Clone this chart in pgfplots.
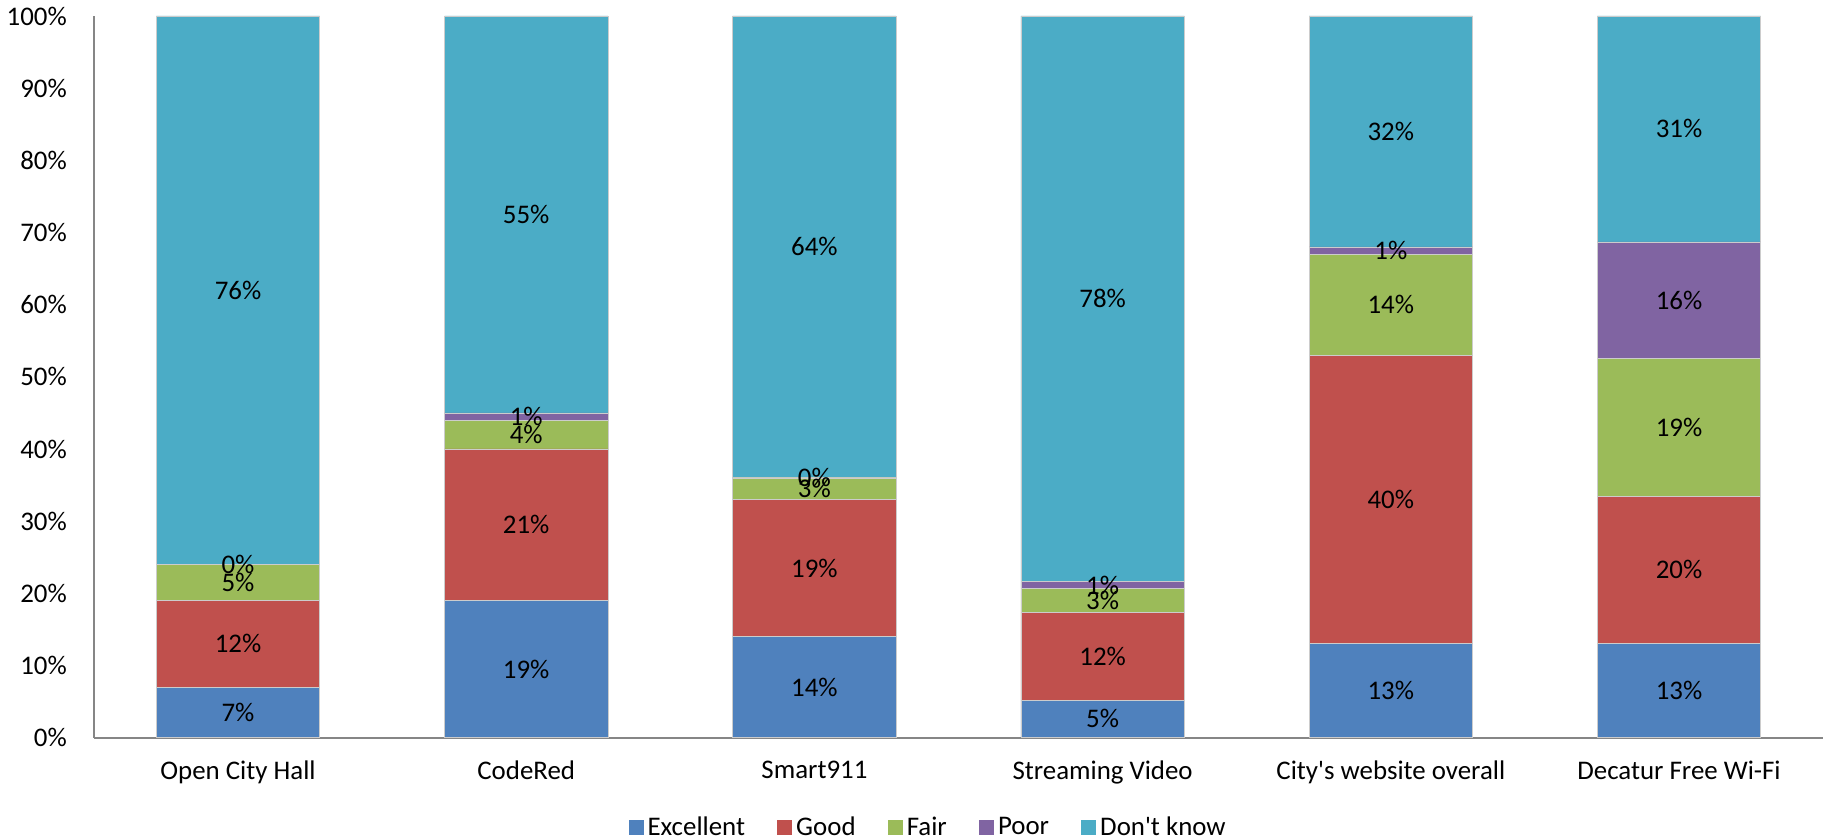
\documentclass[border=0pt]{standalone}
\usepackage{pgfplots}
\pgfplotsset{compat=1.18}
\usepackage{fontspec}
\setmainfont{Carlito}[Ligatures=TeXOff]
\definecolor{cExc}{HTML}{4F81BD}
\definecolor{cGood}{HTML}{C0504D}
\definecolor{cFair}{HTML}{9BBB59}
\definecolor{cPoor}{HTML}{8064A2}
\definecolor{cDk}{HTML}{4BACC6}
\definecolor{axgray}{HTML}{868686}
\begin{document}
\begin{tikzpicture}
\begin{axis}[scale only axis,width=862pt,height=359.75pt,
  ybar stacked,bar width=0.567,
  xmin=-0.5,xmax=5.5,ymin=0,ymax=100,
  xtick={0,1,2,3,4,5},
  xticklabels={Open City Hall,CodeRed,Smart911,Streaming Video,City's website overall,Decatur Free Wi-Fi},
  ytick={0,10,...,100},yticklabel={\pgfmathprintnumber{\tick}\%},
  /pgf/number format/assume math mode=true,
  major tick length=0pt,
  axis x line*=bottom,axis y line*=left,
  axis line style={axgray,line width=0.9pt,-},
  tick label style={font=\fontsize{13.4}{15}\selectfont},
  yticklabel style={xshift=-10pt},
  xticklabel style={yshift=-8pt},
  every axis plot/.append style={draw=white!80!black,line width=0.3pt},
  nodes near coords={\pgfmathprintnumber[fixed,precision=0]{\pgfplotspointmeta}\%},
  every node near coord/.append style={anchor=center,
    font=\fontsize{13.4}{15}\selectfont,text=black},
  legend columns=5,
  legend style={at={(0.483,-0.125)},anchor=center,draw=none,inner sep=0pt,
    nodes={inner ysep=0.5pt},
    font=\fontsize{13.4}{15}\selectfont,
    /tikz/every even column/.append style={column sep=14pt}},
  legend image code/.code={\fill[#1,draw=none] (0pt,-3.75pt) rectangle (7.5pt,3.75pt);},
]
\addplot[fill=cExc] coordinates {(0,7) (1,19) (2,14) (3,5.2) (4,13) (5,13.1)};
\addplot[fill=cGood] coordinates {(0,12) (1,21) (2,19) (3,12.2) (4,40) (5,20.3)};
\addplot[fill=cFair] coordinates {(0,5) (1,4) (2,3) (3,3.3) (4,14) (5,19.1)};
\addplot[fill=cPoor] coordinates {(0,0.01) (1,1) (2,0.01) (3,0.9) (4,1) (5,16.2)};
\addplot[fill=cDk] coordinates {(0,75.99) (1,55) (2,63.99) (3,78.4) (4,32) (5,31.3)};
\legend{Excellent,Good,Fair,Poor,Don't know}
\end{axis}
\end{tikzpicture}
\end{document}
